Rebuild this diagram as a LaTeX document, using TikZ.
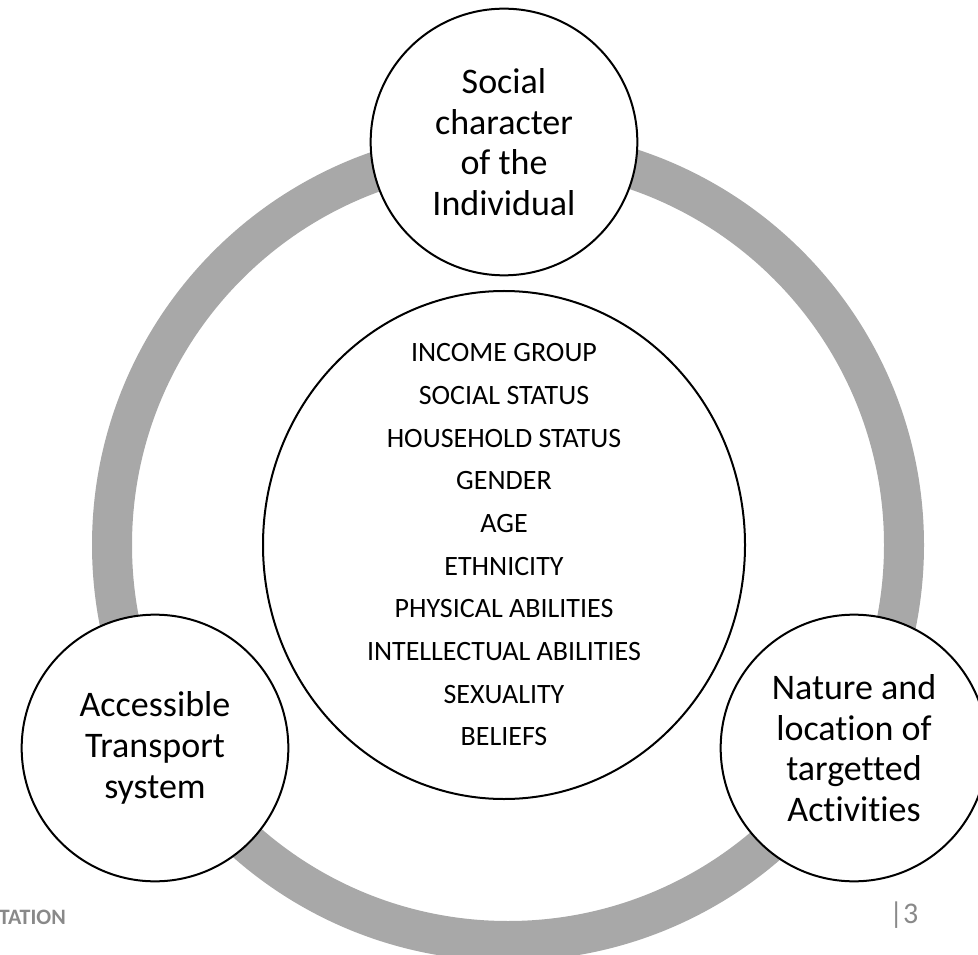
\documentclass[tikz,border=0pt]{standalone}
\usepackage{fontspec}
\setmainfont[Ligatures={NoCommon}]{Carlito}
\usetikzlibrary{shapes.geometric}
\definecolor{ringgray}{RGB}{168,168,168}
\definecolor{footgray}{RGB}{137,137,137}
\tikzset{%
factor/.style={draw,circle,fill=white,line width=1.5pt,minimum size=200pt,inner sep=0pt,align=center,font=\fontsize{27}{30.5}\selectfont},
core/.style={draw,ellipse,fill=white,line width=1.5pt,minimum width=361.5pt,minimum height=381pt,inner sep=0pt},
corelist/.style={inner sep=0pt,align=center,font=\fontsize{21}{32}\selectfont},
loopring/.style={draw=ringgray,line width=30pt},
footer/.style={text=footgray,inner sep=0pt}
}

\begin{document}
\begin{tikzpicture}[x=0.75pt,y=-0.75pt]

    \useasboundingbox (0,0) rectangle (978,955);

    % grey ring behind the circles
    \draw[loopring] (508,545) circle (297pt);

    \node[core]     (traits)    at (504,545) {};
    \node[corelist] (traitlist) at (traits.center) {INCOME GROUP\\SOCIAL STATUS\\HOUSEHOLD STATUS\\GENDER\\AGE\\ETHNICITY\\PHYSICAL ABILITIES\\INTELLECTUAL ABILITIES\\SEXUALITY\\BELIEFS};
    \node[factor]   (social)    at (504,142) {Social\\character\\of the\\Individual};
    \node[factor]   (transport) at (155,748) {Accessible\\Transport\\system};
    \node[factor]   (activity)  at (854,748) {Nature and\\location of\\targetted\\Activities};

    % footer
    \node[footer,anchor=base east,font=\fontsize{16.5}{18}\selectfont\bfseries] (deck) at (66,924) {TATION};
    \node[footer,anchor=base west,font=\fontsize{22.5}{24}\selectfont] (page) at (889,923) {|3};

  \end{tikzpicture}
\end{document}
